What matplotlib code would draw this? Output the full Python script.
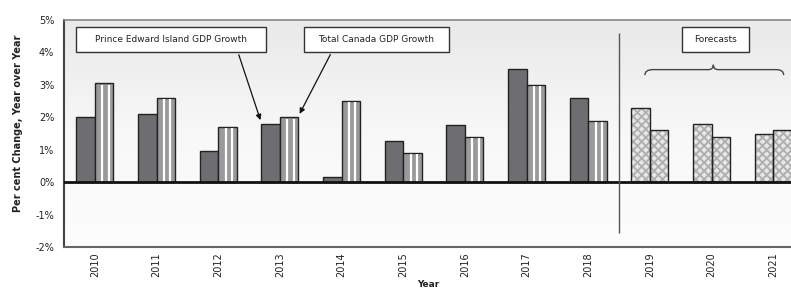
import numpy as np
import matplotlib
matplotlib.use("Agg")
import matplotlib.pyplot as plt
from matplotlib.patches import Rectangle, PathPatch
from matplotlib.path import Path

plt.rcParams.update({
    "font.family": "DejaVu Sans",
    "hatch.linewidth": 1.4,
})

years = ["2010", "2011", "2012", "2013", "2014", "2015", "2016", "2017",
         "2018", "2019", "2020", "2021"]
pei = [2.0, 2.1, 0.97, 1.8, 0.17, 1.27, 1.75, 3.48, 2.6, 2.3, 1.8, 1.5]
canada = [3.05, 2.6, 1.7, 2.0, 2.5, 0.9, 1.4, 3.0, 1.9, 1.6, 1.4, 1.6]
n_actual = 9  # 2010-2018 actual, rest forecast

W, H = 791, 291
fig = plt.figure(figsize=(W / 100, H / 100), dpi=100)
# axes runs past the right edge of the figure, as in the source image
ax = fig.add_axes([64 / W, 44 / H, 740 / W, 227 / H])

x = np.arange(len(years))
w = 0.3
ax.set_xlim(-0.5, len(years) - 0.5)
ax.set_ylim(-2, 5)

# background gradient: light gray at top, white toward the bottom
grad = np.linspace(0.0, 1.0, 200).reshape(-1, 1)
ax.imshow(grad, cmap=matplotlib.colors.LinearSegmentedColormap.from_list(
    "bg", ["#fdfdfd", "#f8f8f8", "#e9e9e9"]), aspect="auto",
    extent=[-0.5, len(years) - 0.5, -2, 5], origin="lower", zorder=0)

xa = x[:n_actual]
xf = x[n_actual:]
# actual PEI
ax.bar(xa - w / 2, pei[:n_actual], w, color="#6e6e70", edgecolor="#222222",
       linewidth=1.0, zorder=2)
# actual Canada: gray with white stripes
ax.bar(xa + w / 2, canada[:n_actual], w, color="#9a9a9c", edgecolor="#222222",
       linewidth=1.0, zorder=2)
for xi, v in zip(xa, canada[:n_actual]):
    ax.vlines([xi + 0.40 * w, xi + 0.75 * w], 0, v - 0.04, color="white",
              linewidth=1.6, zorder=3)
# forecasts: checkered
for vals, off in ((pei, -w / 2), (canada, w / 2)):
    ax.bar(xf + off, vals[n_actual:], w, color="#e8e8e8", edgecolor="#b0b0b0",
           hatch="xxxx", linewidth=0, zorder=2)
    ax.bar(xf + off, vals[n_actual:], w, color="none", edgecolor="#222222",
           linewidth=1.0, zorder=3)

ax.axhline(0, color="#111111", linewidth=2.0, zorder=4)
ax.vlines(8.5, -1.57, 4.6, color="#555555", linewidth=1.0, zorder=4)

# label boxes
def box(x0, x1, y0, y1, text):
    ax.add_patch(Rectangle((x0, y0), x1 - x0, y1 - y0, facecolor="white",
                           edgecolor="#333333", linewidth=1.0, zorder=5))
    ax.text((x0 + x1) / 2, (y0 + y1) / 2, text, ha="center", va="center",
            fontsize=6.5, color="#222222", zorder=6)

box(-0.31, 2.77, 4.01, 4.78, "Prince Edward Island GDP Growth")
box(3.39, 5.74, 4.01, 4.78, "Total Canada GDP Growth")
box(9.52, 10.60, 4.01, 4.78, "Forecasts")

ax.annotate("", xy=(x[3] - w, pei[3] + 0.03), xytext=(2.32, 4.01),
            arrowprops=dict(arrowstyle="-|>", color="#111111", lw=0.9,
                            mutation_scale=8), zorder=6)
ax.annotate("", xy=(x[3] + w, canada[3] + 0.03), xytext=(3.84, 4.01),
            arrowprops=dict(arrowstyle="-|>", color="#111111", lw=0.9,
                            mutation_scale=8), zorder=6)

# brace over the forecast years
yb = 3.47
verts = [(8.92, 3.30), (8.92, yb), (9.05, yb),
         (9.95, yb), (10.03, yb), (10.03, 3.62),
         (10.03, yb), (10.11, yb),
         (11.05, yb), (11.17, yb), (11.17, 3.30)]
codes = [Path.MOVETO, Path.CURVE3, Path.CURVE3,
         Path.LINETO, Path.CURVE3, Path.CURVE3,
         Path.CURVE3, Path.CURVE3,
         Path.LINETO, Path.CURVE3, Path.CURVE3]
ax.add_patch(PathPatch(Path(verts, codes), facecolor="none",
                       edgecolor="#444444", linewidth=1.0, zorder=5))

ax.set_xticks(x)
ax.set_xticklabels(years, rotation=90, fontsize=7, color="#222222")
ax.set_yticks(np.arange(-2, 6))
ax.set_yticklabels([f"{v}%" for v in range(-2, 6)], fontsize=7, color="#222222")
ax.tick_params(length=0)
ax.tick_params(axis="y", pad=7)
ax.tick_params(axis="x", pad=4)

ax.spines["left"].set_color("#444444")
ax.spines["left"].set_linewidth(1.5)
ax.spines["bottom"].set_color("#666666")
ax.spines["bottom"].set_linewidth(1.5)
for s in ("top", "right"):
    ax.spines[s].set_color("#888888")
    ax.spines[s].set_linewidth(1.2)

fig.text(18 / W, 1 - 123 / H, "Per cent Change, Year over Year", rotation=90,
         ha="center", va="center", fontsize=7, fontweight="bold", color="#222222")
fig.text(428 / W, 2 / H, "Year", ha="center", va="bottom", fontsize=6.5,
         fontweight="bold", color="#222222")

fig.savefig("out.png", dpi=100)
